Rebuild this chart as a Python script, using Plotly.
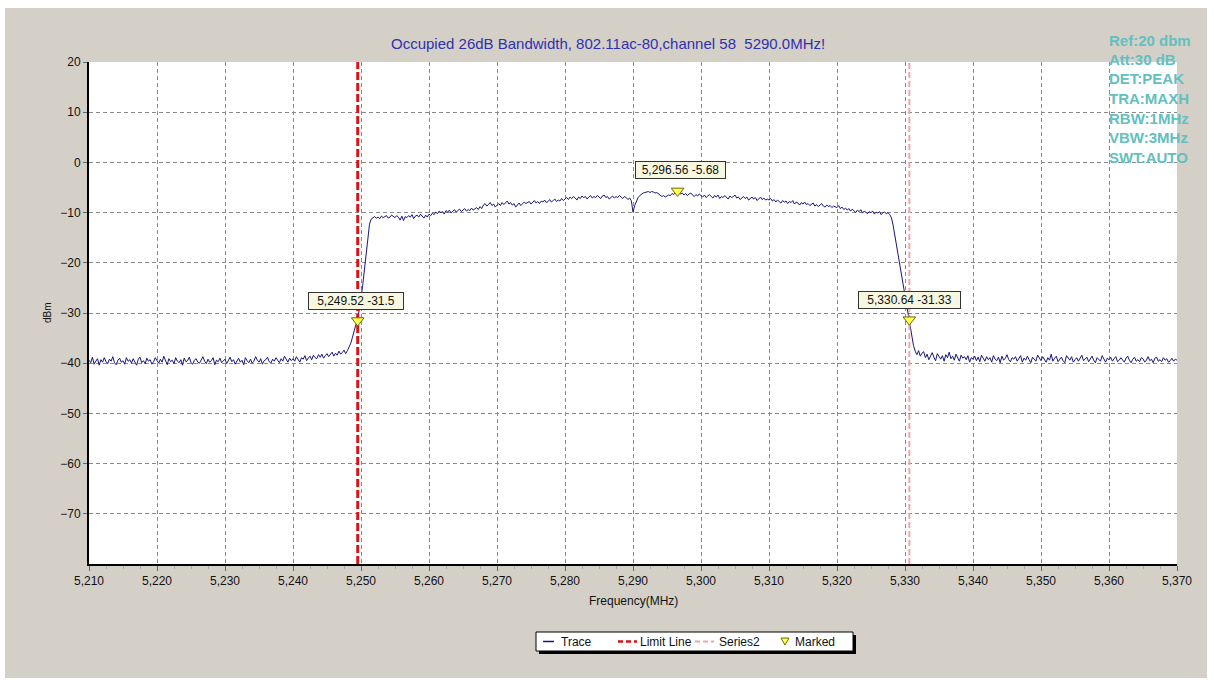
import plotly.graph_objects as go

# ---------------- data ----------------
# spectrum trace, one list per 10 MHz span (40 samples each, 0.25 MHz apart)
row_starts = [5210, 5220, 5230, 5240, 5250, 5260, 5270, 5280,
              5290, 5300, 5310, 5320, 5330, 5340, 5350, 5360]
trace_rows = [
    [-39.4, -39.9, -38.8, -40.2, -39.6, -39.1, -40.4, -39.3, -39.8, -38.9,
     -39.7, -40.1, -39.2, -39.6, -38.7, -39.9, -40.3, -39.4, -39.0, -39.8,
     -39.5, -40.2, -38.9, -39.6, -39.3, -40.0, -39.1, -39.7, -40.4, -39.2,
     -38.8, -39.9, -39.5, -40.1, -39.0, -39.6, -39.3, -40.2, -39.7, -38.9],
    [-39.6, -40.0, -39.2, -39.8, -38.6, -39.5, -40.3, -39.1, -39.7, -39.4,
     -40.1, -38.9, -39.6, -39.9, -39.3, -40.4, -39.0, -39.7, -39.5, -38.8,
     -39.9, -40.2, -39.4, -39.1, -39.8, -40.0, -39.3, -38.7, -39.6, -40.1,
     -39.2, -39.8, -39.5, -38.9, -40.3, -39.4, -39.7, -39.0, -39.9, -39.6],
    [-39.2, -40.1, -39.5, -38.8, -39.7, -39.3, -40.2, -39.6, -39.0, -39.8,
     -39.4, -40.3, -38.9, -39.5, -39.9, -39.2, -40.0, -39.6, -38.7, -39.4,
     -39.8, -39.1, -40.2, -39.5, -39.3, -38.8, -39.7, -40.0, -39.2, -39.6,
     -38.9, -39.4, -39.9, -39.1, -39.6, -38.6, -39.3, -39.8, -39.0, -39.5],
    [-39.1, -39.6, -38.7, -39.3, -39.8, -38.9, -39.2, -38.5, -39.5, -39.0,
     -38.6, -39.3, -38.4, -38.9, -39.1, -38.3, -38.8, -38.2, -39.0, -38.5,
     -38.1, -38.7, -38.3, -37.8, -38.6, -38.0, -38.4, -37.6, -38.2, -37.9,
     -37.4, -38.1, -37.5, -36.9, -36.0, -34.8, -33.5, -32.3, -31.5, -29.5],
    [-27.0, -24.5, -21.5, -18.0, -14.5, -12.3, -11.3, -11.0, -10.8, -11.1,
     -10.9, -11.2, -10.7, -11.0, -10.8, -10.6, -11.1, -10.9, -10.5, -10.8,
     -11.0, -10.6, -10.9, -11.5, -10.7, -11.6, -10.8, -11.0, -10.6, -10.9,
     -10.4, -11.2, -10.7, -10.5, -10.9, -10.3, -10.8, -11.1, -10.5, -10.9],
    [-10.3, -10.6, -10.1, -10.4, -9.9, -10.2, -9.7, -10.0, -9.8, -10.3,
     -9.6, -9.9, -9.5, -10.1, -9.7, -9.4, -9.9, -9.6, -9.3, -9.8,
     -9.5, -9.2, -9.7, -9.4, -9.6, -9.1, -9.5, -9.3, -9.0, -9.4,
     -8.8, -9.2, -8.5, -8.2, -8.7, -8.4, -8.0, -8.6, -8.3, -8.9],
    [-8.5, -8.2, -8.6, -8.0, -8.4, -8.1, -7.7, -8.3, -8.0, -8.5,
     -8.2, -8.9, -8.4, -8.1, -8.6, -8.3, -7.9, -8.2, -8.0, -7.8,
     -8.3, -8.0, -7.6, -8.1, -7.8, -8.2, -7.7, -7.9, -7.5, -8.0,
     -7.8, -7.4, -7.9, -7.6, -7.3, -7.8, -7.5, -7.7, -7.2, -7.6],
    [-7.3, -7.0, -7.4, -6.9, -7.2, -6.8, -7.1, -7.5, -6.9, -7.2,
     -6.7, -7.0, -6.8, -7.3, -6.9, -6.6, -7.1, -6.8, -7.0, -6.6,
     -6.9, -7.2, -6.7, -6.5, -7.0, -6.8, -7.3, -6.9, -6.7, -7.1,
     -6.8, -7.0, -6.6, -6.9, -7.2, -6.8, -7.0, -7.4, -7.1, -7.6],
    [-9.9, -8.6, -7.6, -7.0, -6.6, -6.3, -6.1, -6.0, -5.9, -5.8,
     -6.0, -5.8, -5.9, -6.1, -6.0, -6.3, -6.5, -6.8, -6.6, -6.9,
     -6.7, -6.5, -6.6, -6.2, -6.4, -6.0, -5.7, -6.0, -6.3, -6.1,
     -6.5, -6.2, -6.6, -6.3, -6.1, -6.5, -6.8, -6.4, -6.7, -6.3],
    [-6.6, -6.9, -6.5, -7.0, -6.7, -6.4, -6.8, -7.1, -6.6, -6.9,
     -6.5, -7.2, -6.8, -7.0, -6.6, -6.9, -7.3, -6.7, -7.0, -6.8,
     -6.5, -7.1, -6.9, -7.4, -7.0, -6.8, -7.2, -6.9, -7.5, -7.1,
     -6.9, -7.3, -7.0, -7.6, -7.2, -6.9, -7.4, -7.1, -7.5, -7.3],
    [-7.5, -7.2, -7.7, -7.4, -7.9, -7.5, -7.8, -8.1, -7.6, -7.9,
     -7.7, -8.2, -7.8, -8.0, -7.6, -8.3, -7.9, -8.1, -8.5, -8.0,
     -8.3, -7.9, -8.4, -8.2, -8.6, -8.3, -8.1, -8.7, -8.4, -8.8,
     -8.5, -8.2, -8.7, -8.9, -8.5, -8.8, -8.6, -9.0, -8.7, -8.9],
    [-9.0, -8.6, -9.2, -8.9, -9.4, -9.1, -9.5, -9.2, -9.7, -9.3,
     -9.6, -10.0, -9.5, -9.8, -9.4, -10.1, -9.7, -9.9, -10.2, -9.8,
     -10.0, -9.7, -10.3, -9.9, -10.1, -9.8, -10.4, -10.0, -9.9, -10.2,
     -10.0, -10.4, -11.0, -12.5, -14.5, -16.5, -18.5, -20.5, -22.5, -24.5],
    [-27.0, -29.0, -31.0, -33.0, -35.0, -36.5, -37.6, -38.3, -37.5, -38.6,
     -38.0, -37.7, -38.9, -38.2, -39.3, -38.4, -37.9, -38.8, -39.5, -38.1,
     -38.7, -39.2, -38.5, -39.6, -38.3, -38.9, -37.8, -39.1, -38.6, -39.4,
     -38.2, -38.8, -39.6, -38.4, -39.0, -38.7, -39.3, -38.5, -39.8, -38.9],
    [-39.2, -38.6, -39.5, -38.8, -39.7, -38.4, -39.1, -39.6, -38.7, -39.3,
     -38.9, -39.8, -38.5, -39.2, -39.5, -38.8, -39.9, -38.6, -39.4, -39.0,
     -38.3, -39.3, -39.7, -38.9, -39.2, -38.7, -39.6, -39.1, -38.5, -39.8,
     -39.0, -39.4, -38.6, -39.3, -39.9, -38.8, -39.2, -39.6, -38.4, -39.1],
    [-39.5, -38.7, -39.3, -39.8, -38.9, -39.4, -38.2, -39.6, -39.0, -38.6,
     -39.7, -39.2, -38.8, -39.5, -39.9, -38.5, -39.1, -39.4, -38.7, -39.8,
     -39.3, -38.9, -39.6, -39.0, -38.4, -39.5, -39.2, -38.8, -39.7, -39.1,
     -38.6, -39.4, -39.9, -38.9, -39.3, -39.6, -38.5, -39.2, -39.8, -39.0],
    [-39.3, -38.8, -39.6, -39.1, -38.7, -39.7, -39.4, -38.9, -39.5, -39.8,
     -39.0, -38.6, -39.4, -39.9, -39.2, -38.8, -39.6, -39.3, -39.7, -38.9,
     -39.1, -39.8, -39.4, -38.7, -39.5, -39.2, -39.9, -39.0, -38.8, -39.6,
     -39.3, -39.7, -38.9, -39.4, -39.1, -39.8, -39.5, -39.0, -39.6, -39.2],
]
end_freq = 5370
end_dbm = -39.4

marker_freq = [5249.52, 5296.56, 5330.64]
marker_dbm = [-31.5, -5.68, -31.33]
limit_line_freq = 5249.52
series2_freq = 5330.64

x_ticks = list(range(5210, 5371, 10))
y_ticks = [20, 10, 0, -10, -20, -30, -40, -50, -60, -70]
x_range = [5210, 5370]
y_range = [-80, 20]

title_text = "Occupied 26dB Bandwidth, 802.11ac-80,channel 58  5290.0MHz!"
info_lines = ["Ref:20 dbm", "Att:30 dB", "DET:PEAK", "TRA:MAXH",
              "RBW:1MHz", "VBW:3MHz", "SWT:AUTO"]
legend_names = ["Trace", "Limit Line", "Series2", "Marked"]

# assemble trace sample positions from the rows
trace_freq, trace_dbm = [], []
for start, row in zip(row_starts, trace_rows):
    n = len(row)
    for i, v in enumerate(row):
        trace_freq.append(start + 10.0 * i / n)
        trace_dbm.append(v)
trace_freq.append(end_freq)
trace_dbm.append(end_dbm)

# ---------------- layout geometry ----------------
W, H = 1214, 680
L, R, T, B = 89, 1177, 62, 564
FONT = "Liberation Sans, Arial, sans-serif"

def px(x):
    return (x - L) / (R - L)

def py(y):
    return (B - y) / (B - T)

TRACE_COLOR = "#17177e"
LIMIT_COLOR = "#dd1111"
S2_COLOR = "#f2a4a8"
MARK_FILL = "#ffff55"
MARK_LINE = "#6b6b00"
GRID = "#8a8a8a"
BG = "#d4d0c8"

fig = go.Figure()

fig.add_trace(go.Scatter(x=trace_freq, y=trace_dbm, mode="lines",
                         line=dict(color=TRACE_COLOR, width=1),
                         name=legend_names[0], showlegend=False))
fig.add_trace(go.Scatter(x=[limit_line_freq, limit_line_freq], y=y_range,
                         mode="lines", line=dict(color=LIMIT_COLOR, width=3, dash="8px,3px"),
                         name=legend_names[1], showlegend=False))
fig.add_trace(go.Scatter(x=[series2_freq, series2_freq], y=y_range,
                         mode="lines", line=dict(color=S2_COLOR, width=2, dash="6px,3px"),
                         name=legend_names[2], showlegend=False))
fig.add_trace(go.Scatter(x=marker_freq, y=marker_dbm, mode="markers",
                         marker=dict(symbol="triangle-down", size=11, color=MARK_FILL,
                                     line=dict(color=MARK_LINE, width=1)),
                         name=legend_names[3], showlegend=False))

shapes = []
annotations = []

# thin white window border around the grey panel
for (x0, x1, y0, y1) in [(0, 5, 0, H), (1207, W, 0, H), (0, W, 0, 8), (0, W, 678, H)]:
    shapes.append(dict(type="rect", xref="paper", yref="paper", layer="below",
                       x0=px(x0), x1=px(x1), y0=py(y1), y1=py(y0),
                       fillcolor="#ffffff", line=dict(width=0)))

# marker labels
label_shift = [(-2, 20), (3, 21), (0, 20)]
label_width = [92, 87, 99]
for f, v, (dx, dy), w in zip(marker_freq, marker_dbm, label_shift, label_width):
    annotations.append(dict(x=f, y=v, xref="x", yref="y", showarrow=False,
                            xanchor="center", yanchor="middle",
                            text=f"{f:,.2f} {v}", xshift=dx, yshift=dy,
                            width=w, bgcolor="#f8f8e0", bordercolor="#333333",
                            borderwidth=1, borderpad=1,
                            font=dict(family=FONT, size=12, color="#111111")))

def paper_text(x, y, text, size, color, xanchor="center", angle=0):
    annotations.append(dict(x=px(x), y=py(y), xref="paper", yref="paper",
                            xanchor=xanchor, yanchor="middle", text=text,
                            showarrow=False, textangle=angle,
                            font=dict(family=FONT, size=size, color=color)))

# title
paper_text(608, 43, title_text, 15, "#3030b0")

# instrument info (top right)
for i, line in enumerate(info_lines):
    paper_text(1107, 40 + i * 19.5, f"<b>{line}</b>", 15, "#62c0c0", xanchor="left")

# axis titles
paper_text(633, 601, "Frequency(MHz)", 12, "#111111")
paper_text(47, 313, "dBm", 10, "#111111", angle=-90)

# manual legend
lx0, lx1, ly0, ly1 = 536, 853, 632, 651
shapes.append(dict(type="rect", xref="paper", yref="paper",
                   x0=px(lx0 + 3), x1=px(lx1 + 3), y0=py(ly1 + 3), y1=py(ly0 + 3),
                   fillcolor="#000000", line=dict(width=0)))
shapes.append(dict(type="rect", xref="paper", yref="paper",
                   x0=px(lx0), x1=px(lx1), y0=py(ly1), y1=py(ly0),
                   fillcolor="#ffffff", line=dict(color="#000000", width=1)))
ymid = (ly0 + ly1) / 2
shapes.append(dict(type="line", xref="paper", yref="paper",
                   x0=px(543), x1=px(554), y0=py(ymid), y1=py(ymid),
                   line=dict(color=TRACE_COLOR, width=1.5)))
shapes.append(dict(type="line", xref="paper", yref="paper",
                   x0=px(618), x1=px(637), y0=py(ymid), y1=py(ymid),
                   line=dict(color=LIMIT_COLOR, width=2.5, dash="5px,3px")))
shapes.append(dict(type="line", xref="paper", yref="paper",
                   x0=px(695), x1=px(714), y0=py(ymid), y1=py(ymid),
                   line=dict(color=S2_COLOR, width=2, dash="5px,3px")))
tx, ty = 785, ymid
shapes.append(dict(type="path", xref="paper", yref="paper",
                   path=f"M {px(tx-4)},{py(ty-3.5)} L {px(tx+4)},{py(ty-3.5)} L {px(tx)},{py(ty+3.5)} Z",
                   fillcolor=MARK_FILL, line=dict(color=MARK_LINE, width=1)))
for name, x0 in zip(legend_names, [559, 638, 717, 793]):
    paper_text(x0, ymid, name, 12, "#111111", xanchor="left")

fig.update_layout(
    width=W, height=H,
    margin=dict(l=L, r=W - R, t=T, b=H - B, pad=0),
    paper_bgcolor=BG,
    plot_bgcolor="#ffffff",
    showlegend=False,
    shapes=shapes,
    annotations=annotations,
    font=dict(family=FONT, size=12, color="#111111"),
)

fig.update_xaxes(range=x_range, tickvals=x_ticks, tickformat=",d",
                 showgrid=True, gridcolor=GRID, griddash="4px,3px", gridwidth=1,
                 showline=True, linecolor="#000000", linewidth=2,
                 ticks="outside", ticklen=5, tickcolor="#666666",
                 tickfont=dict(family=FONT, size=12, color="#111111"),
                 minor=dict(dtick=2.5, tick0=5210, ticks="outside", ticklen=3,
                            tickcolor="#aaaaaa", showgrid=False),
                 zeroline=False, fixedrange=True)
fig.update_yaxes(range=y_range, tickvals=y_ticks,
                 showgrid=True, gridcolor=GRID, griddash="4px,3px", gridwidth=1,
                 showline=True, linecolor="#000000", linewidth=2,
                 ticks="outside", ticklen=4, tickcolor="#666666",
                 tickfont=dict(family=FONT, size=12, color="#111111"),
                 zeroline=False, fixedrange=True)

fig.write_html("out.html")
